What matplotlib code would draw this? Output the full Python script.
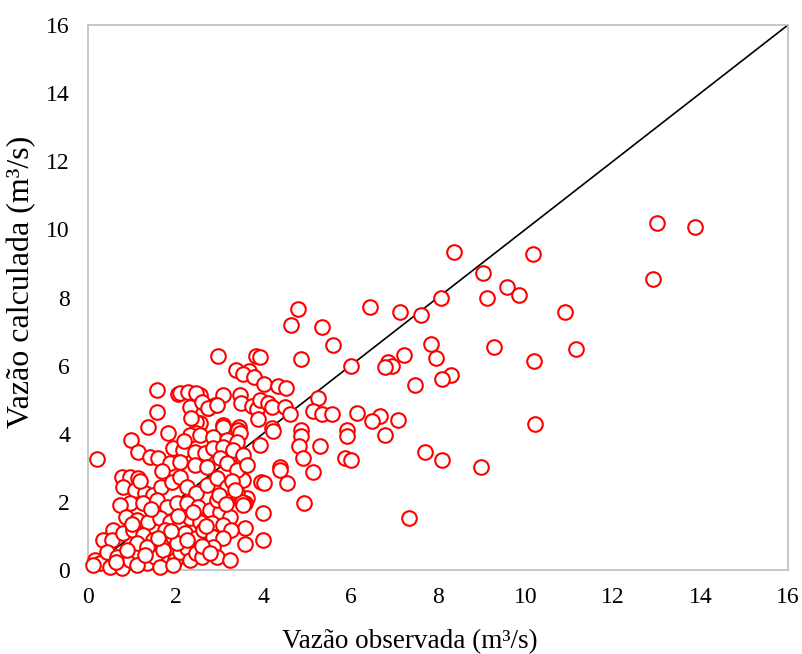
import numpy as np
import matplotlib.pyplot as plt

obs = [
    13.00, 13.87, 12.91, 10.18, 8.37, 9.03, 8.06, 9.11, 9.58, 9.86,
    7.14, 7.62, 10.91, 7.83, 9.27, 11.16, 7.22, 7.95, 6.86, 6.96,
    6.78, 10.19, 8.29, 8.09, 7.47, 6.67, 7.09, 6.78, 10.21, 7.71,
    8.09, 8.98, 7.34,
    4.81, 6.44, 4.64, 5.36, 5.61, 2.97, 3.84, 3.93, 4.88, 6.01,
    3.38, 3.69, 3.55, 3.79, 4.03, 4.34, 4.53, 5.26, 5.14, 5.35,
    5.58, 6.14, 6.50, 3.09, 3.47, 3.49, 2.56, 2.75, 2.90, 3.74,
    3.87, 3.93, 4.12, 4.20, 4.50, 4.62, 3.89, 2.56, 3.09, 3.45,
    4.20, 4.88, 5.91,
    5.93, 5.87, 6.01, 5.30, 4.88, 4.83, 4.92, 5.14, 4.94, 4.39,
    4.40, 4.56, 3.95, 4.02, 4.01, 4.01, 3.59, 3.59, 3.63, 3.59,
    3.93, 4.22, 3.55, 3.55,
    0.21, 1.57, 1.58, 1.38, 0.98, 1.84, 2.05, 2.10, 2.29, 2.48,
    2.33, 2.60, 2.75, 2.94, 2.48, 2.48,
    3.09, 3.44, 3.47, 2.33, 2.56, 2.86, 3.17, 3.40,
    1.95, 2.18, 2.45, 2.67, 2.86, 3.09, 3.32, 3.55,
    1.15, 1.42, 1.61, 1.87,
    2.10, 2.45, 2.71, 3.02, 3.17, 3.40, 3.63,
    0.77, 0.96, 1.15, 0.81, 1.07, 1.30, 1.49, 1.68, 1.91, 2.10,
    2.26, 2.48, 2.71, 2.94, 3.17, 3.40, 3.55,
    0.96, 0.73, 1.26, 1.57, 1.80, 2.03, 2.26,
    2.52, 2.79, 3.02, 3.25, 2.94,
    0.88, 1.11, 1.38, 1.65, 1.87, 2.10, 2.33, 2.56,
    2.83, 3.09, 3.28,
    0.58, 0.35, 0.54, 0.81, 1.04, 1.26, 1.49,
    1.76, 1.95, 2.22, 2.48, 2.64, 2.86, 3.09,
    0.16, 0.27, 0.12, 0.43, 0.66, 0.50, 0.77,
    0.96, 1.15, 1.34, 1.11, 1.53, 1.72, 1.84, 1.65,
    1.99, 2.10, 2.26, 2.33, 2.48, 2.60, 2.03, 2.26,
    2.86, 2.94, 3.25, 1.11, 1.34, 1.95, 3.51, 3.55,
    1.20, 1.70, 2.40, 2.70, 3.00, 3.30, 2.20, 1.45, 0.90, 1.90,
    2.60, 3.15, 2.35, 1.60, 0.65, 1.00, 2.80, 3.35, 2.05, 1.30,
]
calc = [
    10.20, 10.06, 8.53, 9.29, 9.34, 8.73, 8.00, 7.99, 8.31, 8.07,
    7.57, 7.48, 7.58, 6.64, 6.54, 6.48, 6.32, 6.21, 6.10, 5.99,
    5.97, 6.13, 5.73, 5.60, 5.44, 4.53, 4.41, 3.96, 4.28, 3.46,
    3.22, 3.01, 1.52,
    7.65, 7.72, 7.18, 7.13, 6.61, 6.29, 6.29, 6.25, 6.19, 5.98,
    5.87, 5.85, 5.75, 5.68, 5.45, 5.41, 5.33, 5.04, 4.67, 4.57,
    4.59, 4.62, 4.37, 5.14, 5.14, 4.91, 5.14, 4.77, 4.84, 4.82,
    4.72, 4.99, 4.89, 4.79, 4.79, 4.58, 4.42, 4.31, 4.26, 4.21,
    4.16, 4.11, 4.11,
    3.93, 3.28, 3.23, 3.64, 3.94, 3.64, 3.30, 2.87, 1.97, 3.03,
    2.94, 2.56, 2.59, 2.55, 1.66, 0.88, 1.22, 0.76, 2.10, 1.96,
    3.67, 4.09, 3.23, 2.64,
    3.26, 5.28, 4.65, 4.21, 3.82, 4.03, 5.16, 5.19, 5.22, 5.19,
    4.80, 4.94, 4.75, 4.84, 4.35, 4.01,
    4.21, 4.11, 4.01, 3.96, 3.96, 3.91, 3.82, 3.77,
    3.57, 3.52, 3.47, 3.43, 3.57, 3.62, 3.52, 3.38,
    3.47, 3.33, 3.28, 3.13,
    3.18, 3.08, 3.03, 3.28, 3.13, 2.94, 3.08,
    2.74, 2.74, 2.69, 2.45, 2.35, 2.25, 2.20, 2.45, 2.59, 2.74,
    2.45, 2.25, 2.50, 2.69, 2.45, 2.25, 1.96,
    1.96, 1.91, 1.96, 2.06, 1.86, 1.96, 1.96,
    1.86, 1.76, 1.71, 1.56, 2.06,
    1.56, 1.47, 1.42, 1.52, 1.42, 1.37, 1.52, 1.42,
    1.37, 1.32, 1.17,
    1.17, 0.88, 0.88, 1.08, 1.17, 1.03, 0.88,
    1.17, 0.98, 1.08, 0.93, 1.17, 0.98, 0.93,
    0.29, 0.20, 0.15, 0.54, 0.39, 0.10, 0.05,
    0.29, 0.54, 0.20, 0.15, 0.39, 0.59, 0.20, 0.10,
    0.29, 0.54, 0.64, 0.29, 0.49, 0.39, 0.78, 0.88,
    0.68, 0.39, 0.29, 0.78, 0.68, 0.15, 2.00, 1.91,
    2.60, 2.90, 1.70, 1.30, 2.20, 2.60, 3.80, 1.80, 0.60, 1.15,
    0.70, 1.95, 4.45, 0.95, 0.25, 1.35, 0.50, 2.35, 1.60, 0.45,
]
line_x = [0.18, 16]
line_y = [0.18, 16]

plt.rcParams["font.family"] = ["Liberation Serif", "DejaVu Serif"]

fig = plt.figure(figsize=(8.02, 6.54), dpi=100)
ax = fig.add_axes([0.1097, 0.1284, 0.8728, 0.8334])

ax.plot(line_x, line_y, color="black", linewidth=1.2, zorder=2)
ax.plot(obs, calc, linestyle="none", marker="o", markersize=10.5,
        markerfacecolor="white", markeredgecolor="#FF0000",
        markeredgewidth=1.5, clip_on=False, zorder=3)

ax.set_xlim(0, 16)
ax.set_ylim(0, 16)
ax.set_xticks(np.arange(0, 17, 2))
ax.set_yticks(np.arange(0, 17, 2))
ax.tick_params(length=0, labelsize=17)
ax.tick_params(axis="x", pad=12)
ax.tick_params(axis="y", pad=13)
for s in ax.spines.values():
    s.set_color("#BFBFBF")
    s.set_linewidth(1.2)

# axis titles placed like the original (centred on the chart, not the plot area)
fig.text(410 / 802, 1 - 642 / 654, "Vazão observada (m³/s)", fontsize=19.5,
         ha="center", va="center")
fig.text(22 / 802, 1 - 282 / 654, "Vazão calculada (m³/s)", fontsize=23,
         ha="center", va="center", rotation=90)

fig.savefig("out.png", dpi=100)
